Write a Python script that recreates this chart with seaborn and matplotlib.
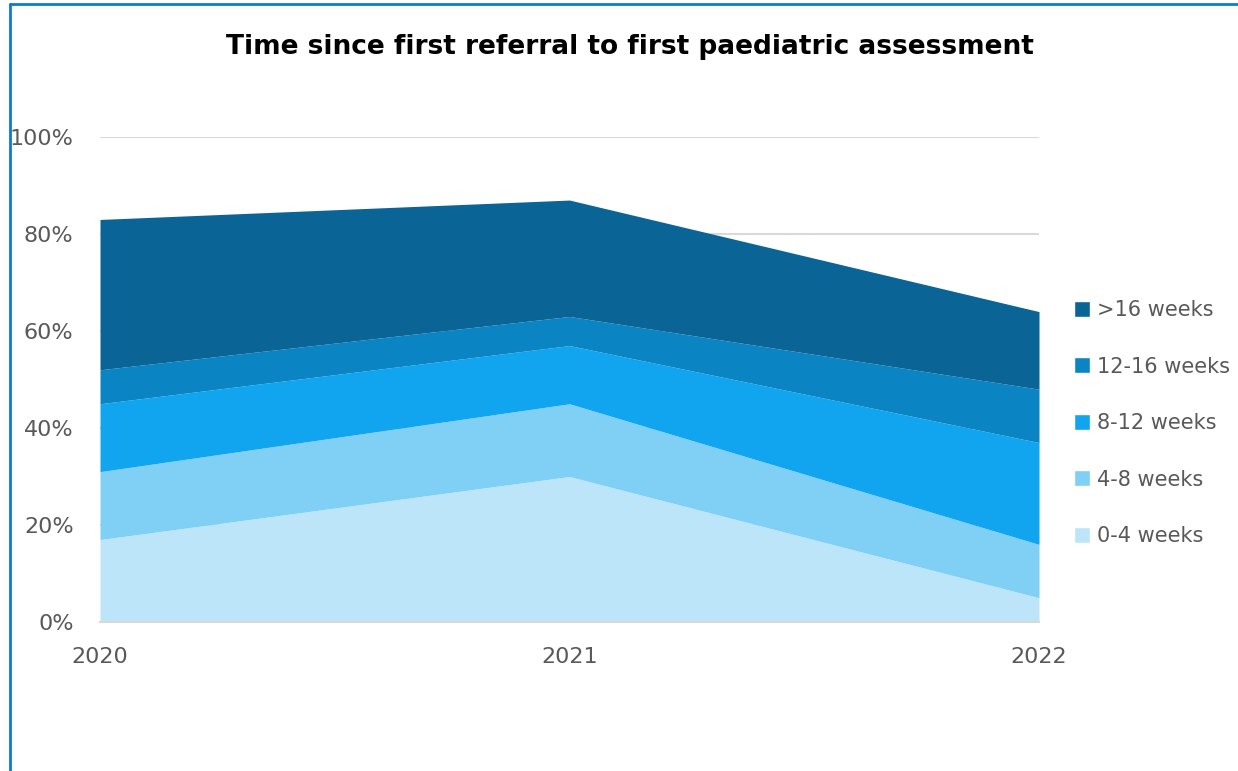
import matplotlib
matplotlib.use("Agg")
import matplotlib.pyplot as plt
from matplotlib.patches import Patch
from matplotlib.lines import Line2D
from matplotlib.ticker import PercentFormatter
import seaborn as sns

# Data (share of children, %)
years = [2020, 2021, 2022]
groups = ["0-4 weeks", "4-8 weeks", "8-12 weeks", "12-16 weeks", ">16 weeks"]
wk_0_4 = [17, 30, 5]
wk_4_8 = [14, 15, 11]
wk_8_12 = [14, 12, 21]
wk_12_16 = [7, 6, 11]
wk_16_plus = [31, 24, 16]
colors = ["#BDE5F9", "#80CFF5", "#11A5F0", "#0B84C4", "#0A6496"]


def main():
    sns.set_theme(style="white")
    plt.rcParams["font.family"] = ["DejaVu Sans"]

    fig = plt.figure(figsize=(12.38, 7.71), dpi=100)
    ax = fig.add_axes([100 / 1238, 149 / 771, 939 / 1238, 485 / 771])

    series = [wk_0_4, wk_4_8, wk_8_12, wk_12_16, wk_16_plus]
    ax.stackplot(years, *series, colors=colors, labels=groups, linewidth=0)

    ax.set_xlim(2020, 2022)
    ax.set_ylim(0, 100)
    ax.set_yticks(range(0, 101, 20))
    ax.yaxis.set_major_formatter(PercentFormatter(decimals=0))
    ax.set_xticks(years)
    ax.set_xticklabels([str(y) for y in years])
    ax.grid(axis="y", color="#D9D9D9", linewidth=1.5)
    ax.set_axisbelow(True)
    sns.despine(ax=ax, left=True)
    ax.spines["bottom"].set_color("#D9D9D9")
    ax.spines["bottom"].set_linewidth(1.5)
    ax.tick_params(axis="x", length=7, width=1.2, color="#D9D9D9", pad=11,
                   labelsize=16, labelcolor="#595959", direction="out")
    ax.tick_params(axis="y", length=0, pad=19, labelsize=16, labelcolor="#595959")

    fig.text(630 / 1238, 1 - 47 / 771, "Time since first referral to first paediatric assessment",
             ha="center", va="center", fontsize=19, fontweight="bold", color="black")

    handles = [Patch(facecolor=c, label=g) for c, g in zip(colors, groups)][::-1]
    ax.legend(handles=handles, loc="center left", bbox_to_anchor=(1.028, 0.41),
              frameon=False, fontsize=15, labelcolor="#595959",
              handlelength=0.8, handleheight=0.8, handletextpad=0.3,
              labelspacing=1.75, borderaxespad=0)

    # blue frame on the left and top
    fig.add_artist(Line2D([9.5 / 1238, 9.5 / 1238], [0, 1 - 4 / 771], color="#0B7BD1",
                          linewidth=2, transform=fig.transFigure))
    fig.add_artist(Line2D([9.5 / 1238, 1], [1 - 4 / 771, 1 - 4 / 771], color="#0B7BD1",
                          linewidth=2, transform=fig.transFigure))

    fig.savefig("out.png", dpi=100)


if __name__ == "__main__":
    main()
